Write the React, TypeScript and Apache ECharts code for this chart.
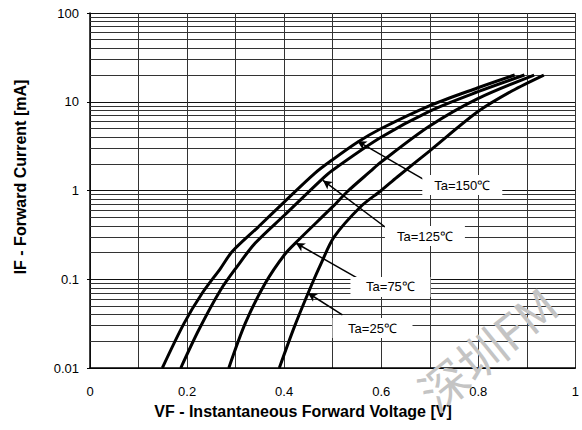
import React, { useEffect, useRef } from "react";
import * as echarts from "echarts";

const xTickLabels = ["0", "0.2", "0.4", "0.6", "0.8", "1"];
const yTickLabels = ["0.01", "0.1", "1", "10", "100"];
const minorGridValues = [
  0.02, 0.03, 0.04, 0.05, 0.06, 0.07, 0.08, 0.09,
  0.2, 0.3, 0.4, 0.5, 0.6, 0.7, 0.8, 0.9,
  2, 3, 4, 5, 6, 7, 8, 9,
  20, 30, 40, 50, 60, 70, 80, 90,
];

const seriesNames = ["Ta=150℃", "Ta=125℃", "Ta=75℃", "Ta=25℃"];
const c150 = [
  [0.149, 0.01], [0.194, 0.032], [0.231, 0.0695], [0.269, 0.133], [0.293, 0.205],
  [0.347, 0.39], [0.401, 0.75], [0.463, 1.56], [0.499, 2.21], [0.551, 3.5],
  [0.597, 4.9], [0.699, 9.0], [0.798, 14.3], [0.875, 20],
];
const c125 = [
  [0.187, 0.01], [0.224, 0.0268], [0.269, 0.0757], [0.303, 0.139], [0.34, 0.254],
  [0.401, 0.53], [0.476, 1.31], [0.499, 1.68], [0.597, 3.9], [0.699, 7.8],
  [0.798, 12.9], [0.895, 20],
];
const c75 = [
  [0.286, 0.01], [0.32, 0.032], [0.361, 0.09], [0.401, 0.19], [0.429, 0.275],
  [0.5, 0.657], [0.531, 0.98], [0.578, 1.65], [0.6, 2.1], [0.699, 5.3],
  [0.798, 10.8], [0.915, 20],
];
const c25 = [
  [0.39, 0.01], [0.422, 0.03], [0.456, 0.085], [0.476, 0.15], [0.503, 0.3],
  [0.558, 0.66], [0.6, 1.0], [0.633, 1.42], [0.7, 2.8], [0.8, 7.8],
  [0.87, 13.3], [0.935, 20],
];
const curves = [c150, c125, c75, c25];

// annotation: arrow tail, arrow head, label center (data coords)
const arrowTails = [[0.69, 1.31], [0.608, 0.388], [0.551, 0.103], [0.52, 0.0396]];
const arrowHeads = [[0.551, 3.6], [0.48, 1.3], [0.424, 0.256], [0.449, 0.07]];
const labelPoints = [[0.767, 1.153], [0.69, 0.307], [0.619, 0.0818], [0.582, 0.0282]];

const FONT = "'Liberation Sans', Arial, sans-serif";

export default function App() {
  const ref = useRef<HTMLDivElement>(null);
  useEffect(() => {
    if (!ref.current) return;
    const chart = echarts.init(ref.current, null, { renderer: "svg" });
    const lineSeries: any[] = curves.map((c, i) => ({
      name: seriesNames[i],
      type: "line",
      data: c,
      smooth: 0.3,
      symbol: "none",
      lineStyle: { color: "#000", width: 3 },
      z: 5,
    }));
    const gridSeries = {
      type: "line",
      data: [],
      silent: true,
      z: 1,
      markLine: {
        silent: true,
        symbol: ["none", "none"],
        label: { show: false },
        lineStyle: { color: "#333", width: 1, type: "solid" },
        data: minorGridValues.map((v) => ({ yAxis: v })),
        z: 1,
      },
    };
    const annotSeries = {
      type: "line",
      data: [],
      silent: true,
      z: 6,
      markLine: {
        silent: true,
        symbol: ["none", "arrow"],
        symbolSize: [7, 9],
        label: { show: false },
        lineStyle: { color: "#000", width: 1.5, type: "solid" },
        data: arrowTails.map((t, i) => [{ coord: t }, { coord: arrowHeads[i] }]),
        z: 6,
      },
      markPoint: {
        silent: true,
        symbol: "rect",
        symbolSize: [80, 20],
        itemStyle: { color: "#fff" },
        label: {
          show: true,
          position: "inside",
          color: "#000",
          fontSize: 13,
          fontFamily: FONT,
          formatter: (p: any) => p.name,
        },
        data: labelPoints.map((p, i) => ({ name: seriesNames[i], coord: p })),
        z: 7,
      },
    };
    chart.setOption({
      animation: false,
      backgroundColor: "#fff",
      grid: { left: 90, right: 2, top: 13, bottom: 62, containLabel: false },
      xAxis: {
        type: "value",
        min: 0,
        max: 1,
        interval: 0.1,
        axisLine: { show: true, lineStyle: { color: "#000", width: 1.5 } },
        axisTick: { show: false },
        axisLabel: {
          color: "#000",
          fontSize: 13,
          fontFamily: FONT,
          margin: 17,
          formatter: (v: number) => {
            const k = Math.round(v * 10);
            return k % 2 === 0 ? xTickLabels[k / 2] : "";
          },
        },
        splitLine: { show: true, lineStyle: { color: "#333", width: 1 } },
      },
      yAxis: {
        type: "log",
        logBase: 10,
        min: 0.01,
        max: 100,
        axisLine: { show: true, lineStyle: { color: "#000", width: 1.5 } },
        axisTick: { show: true, length: 3, lineStyle: { color: "#000" } },
        axisLabel: {
          color: "#000",
          fontSize: 13,
          fontFamily: FONT,
          margin: 11,
          formatter: (v: number) => yTickLabels[Math.round(Math.log10(v)) + 2],
        },
        splitLine: { show: true, lineStyle: { color: "#111", width: 1 } },
      },
      graphic: [
        {
          type: "text",
          x: 303,
          y: 411,
          style: {
            text: "VF - Instantaneous Forward Voltage [V]",
            fill: "#000",
            font: `bold 16px ${FONT}`,
            textAlign: "center",
            textVerticalAlign: "middle",
          },
        },
        {
          type: "text",
          x: 20,
          y: 177,
          rotation: Math.PI / 2,
          style: {
            text: "IF - Forward Current [mA]",
            fill: "#000",
            font: `bold 16px ${FONT}`,
            textAlign: "center",
            textVerticalAlign: "middle",
          },
        },
        {
          type: "text",
          x: 424,
          y: 398,
          rotation: (39 * Math.PI) / 180,
          z: 100,
          style: {
            text: "深圳FM",
            fill: "#c4c4c4",
            font: `48px 'Noto Sans CJK SC', sans-serif`,
            textAlign: "left",
            textVerticalAlign: "middle",
          },
        },
      ],
      series: [gridSeries, ...lineSeries, annotSeries],
    });
    return () => chart.dispose();
  }, []);
  return (
    <div
      ref={ref}
      style={{ position: "absolute", left: 0, top: 0, width: 582, height: 430 }}
    />
  );
}
